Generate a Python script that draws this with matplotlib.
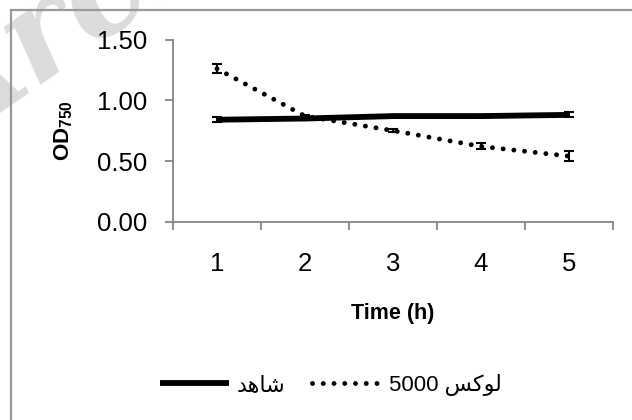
import numpy as np
import matplotlib
matplotlib.use("Agg")
import matplotlib.pyplot as plt
from matplotlib.patches import Rectangle

# data
hours = [1, 2, 3, 4, 5]
control = [0.84, 0.85, 0.87, 0.87, 0.88]
control_err = [0.02, 0.015, 0.01, 0.01, 0.02]
lux5000 = [1.26, 0.87, 0.75, 0.62, 0.54]
lux5000_err = [0.035, 0.01, 0.015, 0.025, 0.04]
y_ticks = [0.0, 0.5, 1.0, 1.5]

# persian labels, pre-shaped (presentation forms, visual order)
label_control = "\uFEAA\uFEEB\uFE8E\uFEB7"            # shahed
label_lux = "5000 \uFEB2\uFB90\uFEEE\uFEDF"            # 5000 lux

AX_GRAY = "#868686"
plt.rcParams["font.family"] = ["Liberation Sans", "DejaVu Sans"]
plt.rcParams["mathtext.fontset"] = "custom"
plt.rcParams["mathtext.rm"] = "Liberation Sans"
plt.rcParams["mathtext.bf"] = "Liberation Sans:bold"

fig = plt.figure(figsize=(6.32, 4.20), dpi=100)
ax = fig.add_axes([0.2737, 0.4721, 0.6963, 0.4336])
ax.patch.set_alpha(0)

# watermark (mostly off the canvas) and outer frame
fig.text(-0.074, 0.635, "Archive", fontsize=95, color="#dcdcdc", rotation=35,
         rotation_mode="anchor", family="DejaVu Serif", style="italic",
         weight="bold", ha="left", va="baseline", zorder=-1)
fig.patches.append(Rectangle((11 / 632, -0.1), 1.2, 1.076, transform=fig.transFigure,
                             fill=False, edgecolor="#999999", linewidth=1.6, zorder=1))

ax.plot(hours, control, color="black", linewidth=4.2, solid_capstyle="butt",
        label=label_control, zorder=3)
ax.errorbar(hours, control, yerr=control_err, fmt="none", ecolor="black",
            elinewidth=1.5, capsize=3.6, capthick=1.5, zorder=4)

ax.plot(hours, lux5000, color="black", linewidth=3.5, linestyle=(0, (0.01, 2.2)),
        dash_capstyle="round", label=label_lux, zorder=3)
ax.errorbar(hours, lux5000, yerr=lux5000_err, fmt="none", ecolor="black",
            elinewidth=1.5, capsize=3.6, capthick=1.5, zorder=4)

ax.set_xlim(0.5, 5.5)
ax.set_ylim(0, 1.5)
ax.set_yticks(y_ticks)
ax.set_yticklabels([f"{v:.2f}" for v in y_ticks])
ax.set_xticks(np.arange(0.5, 6.0, 1.0))
ax.set_xticklabels([])
ax.set_xticks(hours, minor=True)
ax.set_xticklabels([str(h) for h in hours], minor=True)

for side in ("top", "right"):
    ax.spines[side].set_visible(False)
for side in ("left", "bottom"):
    ax.spines[side].set_color(AX_GRAY)
    ax.spines[side].set_linewidth(1.3)

ax.tick_params(axis="y", which="major", length=5.5, width=1.3, color=AX_GRAY,
               labelsize=18.5, pad=13)
ax.tick_params(axis="x", which="major", length=5.5, width=1.3, color=AX_GRAY)
ax.tick_params(axis="x", which="minor", length=0, labelsize=18.5, pad=22)

ax.set_xlabel("Time (h)", fontsize=15.5, fontweight="bold", labelpad=19)
ax.set_ylabel(r"$\mathbf{OD}_{\mathbf{750}}$", fontsize=16, labelpad=16)

fig.legend(loc="center", bbox_to_anchor=(0.524, 0.0833), ncol=2, frameon=False,
           fontsize=16, handlelength=3.1, handletextpad=0.35, columnspacing=1.2)

fig.savefig("out.png", dpi=100)
